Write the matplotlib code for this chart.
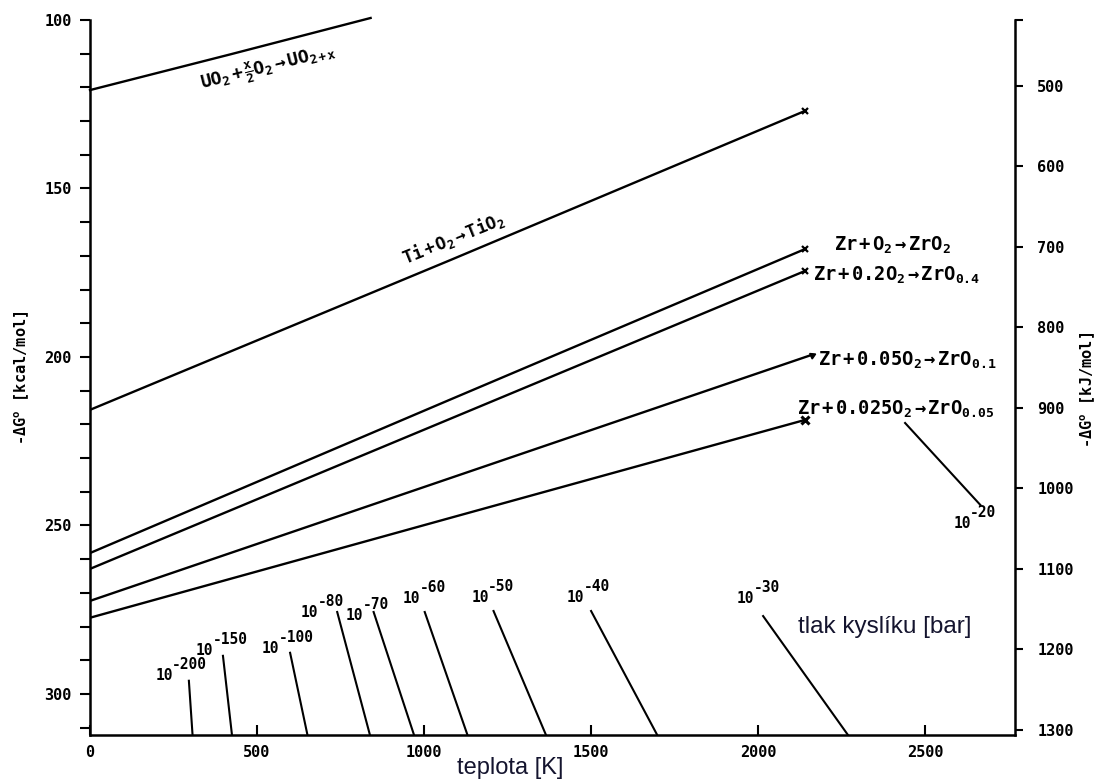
import matplotlib.pyplot as plt
import numpy as np

plt.rcParams["font.family"] = "DejaVu Sans Mono"
plt.rcParams["font.weight"] = "bold"
plt.rcParams["mathtext.fontset"] = "custom"
plt.rcParams["mathtext.rm"] = "DejaVu Sans Mono"
plt.rcParams["mathtext.it"] = "DejaVu Sans Mono"
plt.rcParams["mathtext.bf"] = "DejaVu Sans Mono:bold"

KCAL_TO_KJ = 4.184

# reaction lines, temperature [K] vs -dG [kcal/mol]
uo2_T = [0, 420, 840]
uo2_G = [120.8, 110.2, 99.4]
ti_T = [0, 1080, 2140]
ti_G = [215.7, 171.2, 127.0]
zr_T = [0, 1070, 2140]
zr_o2_G = [258.2, 213.0, 168.0]
zr_02_G = [262.9, 218.7, 174.5]
zr_005_T = [0, 1080, 2160]
zr_005_G = [272.4, 235.9, 199.4]
zr_0025_G = [277.4, 248.0, 218.7]

# oxygen partial pressure iso-lines (10^exp bar)
p_exp = ["-200", "-150", "-100", "-80", "-70", "-60", "-50", "-40", "-30", "-20"]
p_T_top = [296, 398, 599, 740, 849, 1002, 1208, 1500, 2015, 2440]
p_T_bot = [307, 425, 651, 838, 970, 1130, 1365, 1698, 2269, 2665]
p_G_top = [296.1, 288.7, 287.8, 275.7, 275.7, 275.7, 275.4, 275.4, 276.9, 219.6]
p_G_bot = [312.2, 312.2, 312.2, 312.2, 312.2, 312.2, 312.2, 312.2, 312.2, 243.9]
# where the "10" of each label sits (left edge, baseline)
p_lab_T = [195, 317, 515, 632, 766, 937, 1141, 1428, 1937, 2584]
p_lab_G = [295.8, 288.4, 287.8, 277.2, 278.0, 273.0, 272.7, 272.7, 273.0, 250.7]

x_ticks = [0, 500, 1000, 1500, 2000, 2500]
kcal_ticks = [100, 150, 200, 250, 300]
kj_ticks = [500, 600, 700, 800, 900, 1000, 1100, 1200, 1300]

fig = plt.figure(figsize=(10.99, 7.80), dpi=100)
ax = fig.add_axes([90 / 1099, 45 / 780, 925 / 1099, 715 / 780])

lw = 1.7
ax.plot(uo2_T, uo2_G, color="black", lw=lw, clip_on=False)
ax.plot(ti_T, ti_G, color="black", lw=lw, marker="x", markevery=[-1], ms=5, mew=1.6)
ax.plot(zr_T, zr_o2_G, color="black", lw=lw, marker="x", markevery=[-1], ms=5, mew=1.6)
ax.plot(zr_T, zr_02_G, color="black", lw=lw, marker="x", markevery=[-1], ms=5, mew=1.6)
ax.plot(zr_005_T, zr_005_G, color="black", lw=lw, marker=(3, 0, -65), markevery=[-1], ms=5)
ax.plot(zr_T, zr_0025_G, color="black", lw=lw, marker="x", markevery=[-1], ms=6, mew=2.2)

for i in range(len(p_exp)):
    ax.plot([p_T_top[i], p_T_bot[i]], [p_G_top[i], p_G_bot[i]], color="black", lw=1.5)
    ax.text(p_lab_T[i], p_lab_G[i], "10", fontsize=10.5, ha="left", va="baseline")
    ax.annotate(p_exp[i], xy=(p_lab_T[i], p_lab_G[i]), xytext=(12, 8),
                textcoords="offset points", fontsize=10.5, ha="left", va="baseline")

# reaction labels
ax.text(533, 114.2, r"$\mathrm{UO_2+\frac{x}{2}O_2\rightarrow UO_{2+x}}$",
        fontsize=13, rotation=14, ha="center", va="center")
ax.text(1087, 164.7, r"$\mathrm{Ti+O_2\rightarrow TiO_2}$",
        fontsize=12.5, rotation=22, ha="center", va="center")
ax.text(2228, 166.8, r"$\mathrm{Zr+O_2\rightarrow ZrO_2}$", fontsize=13.5, ha="left", va="center")
ax.text(2165, 175.8, r"$\mathrm{Zr+0.2O_2\rightarrow ZrO_{0.4}}$", fontsize=13.5, ha="left", va="center")
ax.text(2180, 200.9, r"$\mathrm{Zr+0.05O_2\rightarrow ZrO_{0.1}}$", fontsize=13.5, ha="left", va="center")
ax.text(2117, 215.7, r"$\mathrm{Zr+0.025O_2\rightarrow ZrO_{0.05}}$", fontsize=13.5, ha="left", va="center")

ax.text(2120, 280.0, "tlak kyslíku [bar]", fontsize=17.5, family="Liberation Sans",
        weight="normal", color="#14142e", ha="left", va="center")

ax.set_xlim(0, 2769)
ax.set_ylim(312.2, 100)

ax.set_xticks(x_ticks)
ax.set_yticks(kcal_ticks)
ax.set_yticks(np.arange(110, 311, 10), minor=True)
ax.tick_params(axis="x", direction="in", length=7, width=1.5, pad=7, labelsize=11)
ax.tick_params(axis="y", which="both", direction="out", length=7, width=1.5, pad=6, labelsize=11)
ax.tick_params(axis="y", which="minor", labelleft=False)

for s in ["top", "right"]:
    ax.spines[s].set_visible(False)
for s in ["left", "bottom"]:
    ax.spines[s].set_linewidth(1.8)

sec = ax.secondary_yaxis("right", functions=(lambda g: g * KCAL_TO_KJ, lambda k: k / KCAL_TO_KJ))
sec.set_yticks(kj_ticks)
sec.set_yticks([100 * KCAL_TO_KJ], minor=True)
sec.tick_params(which="both", direction="out", length=6, width=1.5, pad=10, labelsize=11)
sec.spines["right"].set_linewidth(1.8)

fig.text(22 / 1099, 1 - 378 / 780, r"-$\Delta$G$^{\rm o}$ [kcal/mol]", rotation=90,
         fontsize=11, ha="center", va="center")
fig.text(1088 / 1099, 1 - 390 / 780, r"-$\Delta$G$^{\rm o}$ [kJ/mol]", rotation=90,
         fontsize=11, ha="center", va="center")
fig.text(510 / 1099, 1 - 768 / 780, "teplota [K]", fontsize=17, family="Liberation Sans",
         weight="normal", color="#14142e", ha="center", va="center")

fig.savefig("out.png", dpi=100)
